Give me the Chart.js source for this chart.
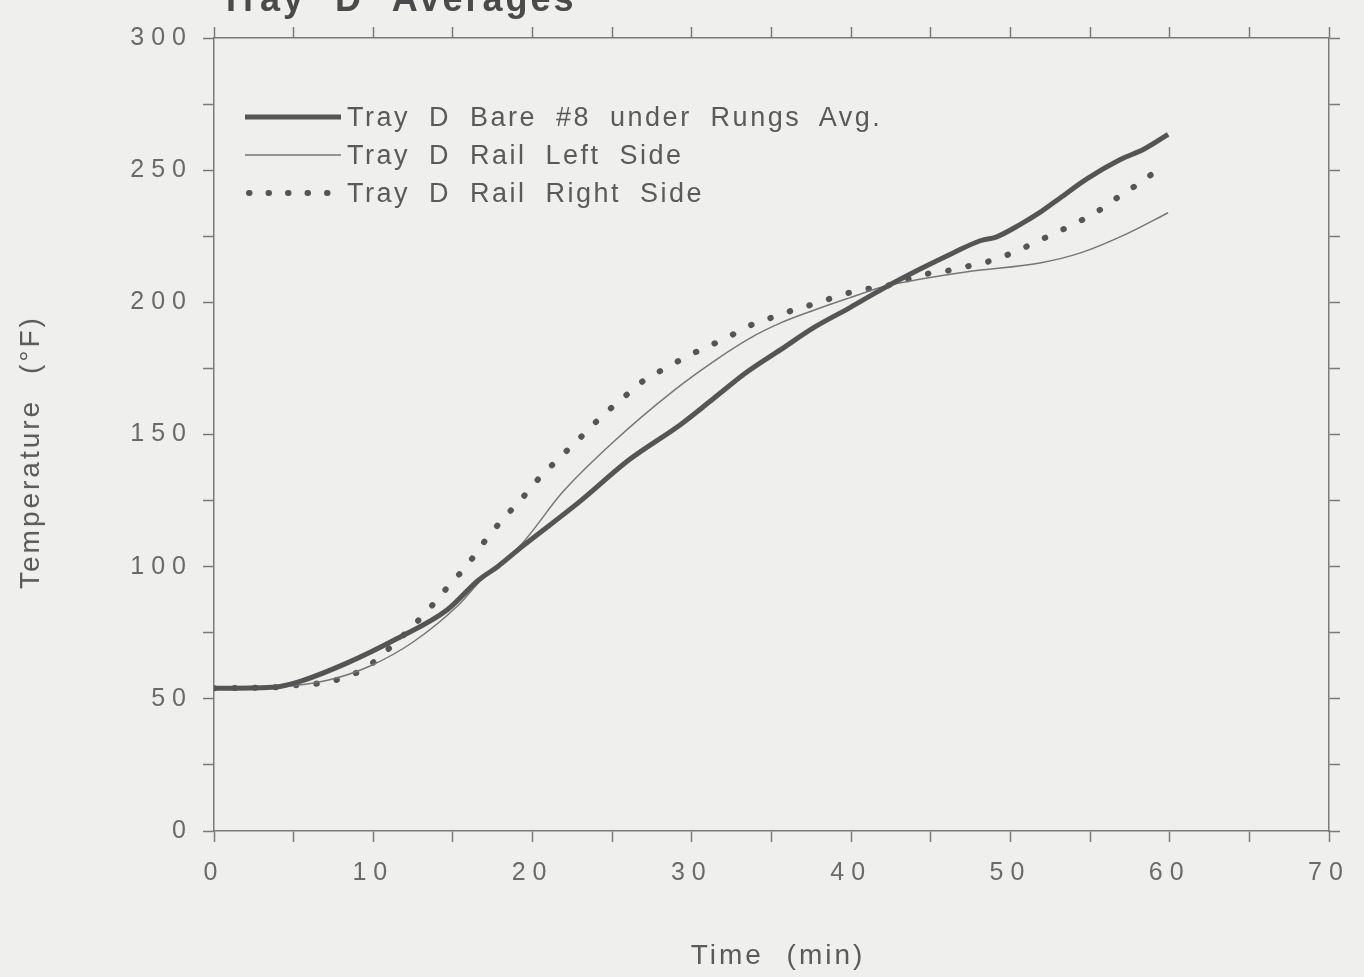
<!DOCTYPE html>
<html>
<head>
<meta charset="utf-8">
<script src="https://cdn.jsdelivr.net/npm/chart.js@4"></script>
<style>
  body { margin: 0; background: #efefed; }
  #wrap { position: relative; width: 1364px; height: 977px; overflow: hidden; font-family: "Liberation Sans", Arial, sans-serif; }
  #grafico { position: absolute; left: 0; top: 0; }
  .txt { position: absolute; white-space: nowrap; color: #5a5a5a; }
  #titulo { left: 220px; top: -22px; font-size: 36px; font-weight: bold; color: #4a4a4a; letter-spacing: 3px; word-spacing: 16px; }
  #tituloY { left: 30px; top: 452px; font-size: 28px; letter-spacing: 3px; word-spacing: 14px; transform: translate(-50%, -50%) rotate(-90deg); }
  #tituloX { left: 778px; top: 955px; font-size: 28px; letter-spacing: 3px; word-spacing: 12px; transform: translate(-50%, -50%); }
  .leg { left: 245px; height: 34px; display: flex; align-items: center; }
  .leg svg { margin-right: 6px; }
  .leg span { font-size: 27px; letter-spacing: 2.5px; word-spacing: 9px; }
</style>
</head>
<body>
<div id="wrap">
  <canvas id="grafico" width="1364" height="977"></canvas>
  <div class="txt" id="titulo">Tray D Averages</div>
  <div class="txt" id="tituloY">Temperature (°F)</div>
  <div class="txt" id="tituloX">Time (min)</div>
  <div class="txt leg" style="top:100px">
    <svg width="96" height="10"><line x1="0" y1="5" x2="96" y2="5" stroke="#555" stroke-width="5"/></svg>
    <span>Tray D Bare #8 under Rungs Avg.</span>
  </div>
  <div class="txt leg" style="top:138px">
    <svg width="96" height="10"><line x1="0" y1="5" x2="96" y2="5" stroke="#777" stroke-width="1.5"/></svg>
    <span>Tray D Rail Left Side</span>
  </div>
  <div class="txt leg" style="top:176px">
    <svg width="96" height="10"><line x1="4" y1="5" x2="96" y2="5" stroke="#555" stroke-width="6" stroke-linecap="round" stroke-dasharray="0.5 19"/></svg>
    <span>Tray D Rail Right Side</span>
  </div>
</div>
<script>
// Tray D Bare #8 under Rungs Avg. (tempo em min, temperatura em °F)
const bareTime = [0, 3.9, 5.2, 8.3, 11.5, 14.65, 16.6, 17.8, 19.3, 22.9, 26.1, 29.3, 31.4, 33.5, 35.6, 37.7, 39.9, 42.0, 44.3, 46.4, 48.1, 49.1, 50.6, 51.9, 53.1, 54.8, 56.9, 58.4, 59.9];
const bareTemp = [54, 54.5, 56.2, 63.4, 72.8, 83.7, 94.9, 100, 107.4, 124.3, 140.6, 153.8, 163.8, 173.8, 182.2, 190.6, 197.9, 205.2, 212.5, 218.7, 223.3, 224.7, 229.4, 234.2, 239.4, 246.7, 254.0, 258.0, 263.5];

// Tray D Rail Left Side
const leftTime = [0, 4.1, 7.2, 9.8, 12.5, 15.3, 16.75, 19.3, 21.9, 25.0, 28.9, 31.4, 33.6, 35.65, 37.7, 39.9, 42.0, 44.3, 47.4, 51.85, 54.4, 57.3, 59.9];
const leftTemp = [54, 54.5, 57.1, 62.4, 71.5, 85.2, 94.8, 108.5, 128.3, 146.8, 166.8, 177.8, 186.3, 192.4, 197.1, 201.7, 205.9, 208.7, 211.7, 214.9, 218.7, 225.9, 233.9];

// Tray D Rail Right Side
const rightTime = [0, 4.2, 5.5, 6.8, 8.2, 9.6, 11.0, 12.4, 13.7, 14.8, 15.9, 16.9, 18.05, 19.3, 20.4, 21.7, 23.1, 24.4, 25.6, 27.0, 28.4, 29.8, 31.1, 32.6, 33.9, 35.1, 36.5, 37.85, 39.3, 40.6, 42.0, 44.6, 46.0, 47.3, 48.7, 50.2, 51.5, 52.8, 54.2, 55.6, 56.9, 58.2, 59.6];
const rightTemp = [54, 54.5, 55.4, 56.0, 58.1, 62.0, 69.1, 77, 85.4, 93.2, 100.6, 108.9, 117.4, 125.6, 133.4, 141.2, 149.4, 157.2, 163.4, 170.5, 175.2, 179.9, 183.5, 187.9, 191.9, 194.4, 197.3, 199.7, 202.6, 204.7, 205.9, 210.6, 211.9, 213.6, 215.6, 218.9, 222.5, 226.2, 230.2, 234.9, 240.4, 245.5, 251.8];

const xTicks = [0, 10, 20, 30, 40, 50, 60, 70];
const yTicks = [0, 50, 100, 150, 200, 250, 300];

function pares(xs, ys) {
    return xs.map(function (x, i) { return { x: x, y: ys[i] }; });
}

const corEixo = '#7a7a7a';

function eixo(extra) {
    return Object.assign({
        type: 'linear',
        grid: { drawOnChartArea: false, drawTicks: true, tickLength: 11, color: corEixo, tickWidth: 1.5 },
        border: { display: true, color: corEixo, width: 1.5 }
    }, extra);
}

// espaçamento largo dos números dos eixos, como no gráfico original
const espacamento = {
    id: 'espacamento',
    beforeDraw: function (chart) { chart.ctx.letterSpacing = '7px'; }
};

const ctx = document.getElementById('grafico').getContext('2d');
const grafico = new Chart(ctx, {
    type: 'line',
    data: {
        datasets: [{
            label: 'Tray D Bare #8 under Rungs Avg.',
            data: pares(bareTime, bareTemp),
            borderColor: '#555',
            borderWidth: 5,
            cubicInterpolationMode: 'monotone'
        }, {
            label: 'Tray D Rail Left Side',
            data: pares(leftTime, leftTemp),
            borderColor: '#777',
            borderWidth: 1.5,
            cubicInterpolationMode: 'monotone'
        }, {
            label: 'Tray D Rail Right Side',
            data: pares(rightTime, rightTemp),
            borderColor: '#555',
            borderWidth: 6,
            borderDash: [0.5, 20],
            borderCapStyle: 'round',
            cubicInterpolationMode: 'monotone'
        }]
    },
    options: {
        responsive: false,
        animation: false,
        layout: { padding: { top: 27, right: 24, left: 0, bottom: 0 } },
        elements: { point: { radius: 0 } },
        plugins: { legend: { display: false }, title: { display: false }, tooltip: { enabled: false } },
        scales: {
            x: eixo({
                position: 'bottom', min: 0, max: 70,
                afterBuildTicks: function (s) {
                    s.ticks = [];
                    for (let v = 0; v <= 70; v += 5) s.ticks.push({ value: v });
                },
                ticks: {
                    autoSkip: false, maxRotation: 0, padding: 16, color: '#6a6a6a',
                    font: { family: 'Liberation Sans', size: 25 },
                    callback: function (v) { return xTicks.includes(v) ? String(v) : ''; }
                },
                afterFit: function (s) { s.height = 146; }
            }),
            x2: eixo({
                position: 'top', axis: 'x', min: 0, max: 70,
                afterBuildTicks: function (s) {
                    s.ticks = [];
                    for (let v = 0; v <= 70; v += 5) s.ticks.push({ value: v });
                },
                ticks: { display: false }
            }),
            y: eixo({
                position: 'left', min: 0, max: 300,
                afterBuildTicks: function (s) {
                    s.ticks = [];
                    for (let v = 0; v <= 300; v += 25) s.ticks.push({ value: v });
                },
                ticks: {
                    padding: 10, color: '#6a6a6a',
                    font: { family: 'Liberation Sans', size: 25 },
                    callback: function (v) { return yTicks.includes(v) ? String(v) : ''; }
                },
                afterFit: function (s) { s.width = 214; }
            }),
            y2: eixo({
                position: 'right', axis: 'y', min: 0, max: 300,
                afterBuildTicks: function (s) {
                    s.ticks = [];
                    for (let v = 0; v <= 300; v += 25) s.ticks.push({ value: v });
                },
                ticks: { display: false }
            })
        }
    },
    plugins: [espacamento]
});
</script>
</body>
</html>
